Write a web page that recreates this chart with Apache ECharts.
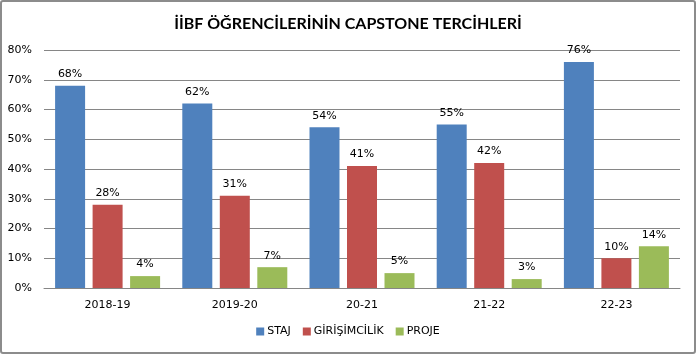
<!DOCTYPE html>
<html><head><meta charset="utf-8">
<script src="https://cdn.jsdelivr.net/npm/echarts@6/dist/echarts.min.js"></script>
<style>
html,body{margin:0;padding:0;background:#fff;}
#wrap{position:absolute;left:0;top:0;width:692px;height:350px;border:2px solid #8c8c8c;border-radius:3px;}
#c{position:absolute;left:0;top:0;width:696px;height:356px;}
</style></head>
<body><div id="wrap"></div><div id="c"></div>
<script>
const categories = ['2018-19','2019-20','20-21','21-22','22-23'];
const staj = [68, 62, 54, 55, 76];
const girisimcilik = [28, 31, 41, 42, 10];
const proje = [4, 7, 5, 3, 14];
const yTicks = [0,10,20,30,40,50,60,70,80];
const seriesNames = ['STAJ','GİRİŞİMCİLİK','PROJE'];
const colors = ['#4F81BD','#C0504D','#9BBB59'];

const font = 'DejaVu Sans';
const chart = echarts.init(document.getElementById('c'));
const mk = (name, data, color) => ({
  name, type:'bar', data, barWidth:30, barGap:'25%',
  itemStyle:{color},
  label:{show:true, position:'top', formatter:'{c}%', color:'#000', fontFamily:font, fontSize:11, distance:6}
});
chart.setOption({
  animation:false,
  title:{text:'İİBF ÖĞRENCİLERİNİN CAPSTONE TERCİHLERİ', left:'center', top:11,
    textStyle:{fontFamily:'Lato', fontWeight:'bold', fontSize:16, color:'#000'}},
  legend:{bottom:14, left:'center', itemWidth:8, itemHeight:8, itemGap:12, icon:'rect',
    textStyle:{fontFamily:font, fontSize:11, color:'#000', padding:[0,0,0,-2]}, data:seriesNames},
  grid:{left:44, right:16, top:50, bottom:68},
  xAxis:{type:'category', data:categories,
    axisLine:{lineStyle:{color:'#868686'}}, axisTick:{show:false},
    axisLabel:{fontFamily:font, fontSize:11, color:'#000', margin:12}},
  yAxis:{type:'value', min:0, max:80, interval:10,
    axisLine:{show:false}, axisTick:{show:false},
    splitLine:{lineStyle:{color:'#868686'}},
    axisLabel:{fontFamily:font, fontSize:11, color:'#000', margin:12, formatter:v=>v+'%'}},
  series:[mk(seriesNames[0], staj, colors[0]), mk(seriesNames[1], girisimcilik, colors[1]), mk(seriesNames[2], proje, colors[2])]
});
</script></body></html>
